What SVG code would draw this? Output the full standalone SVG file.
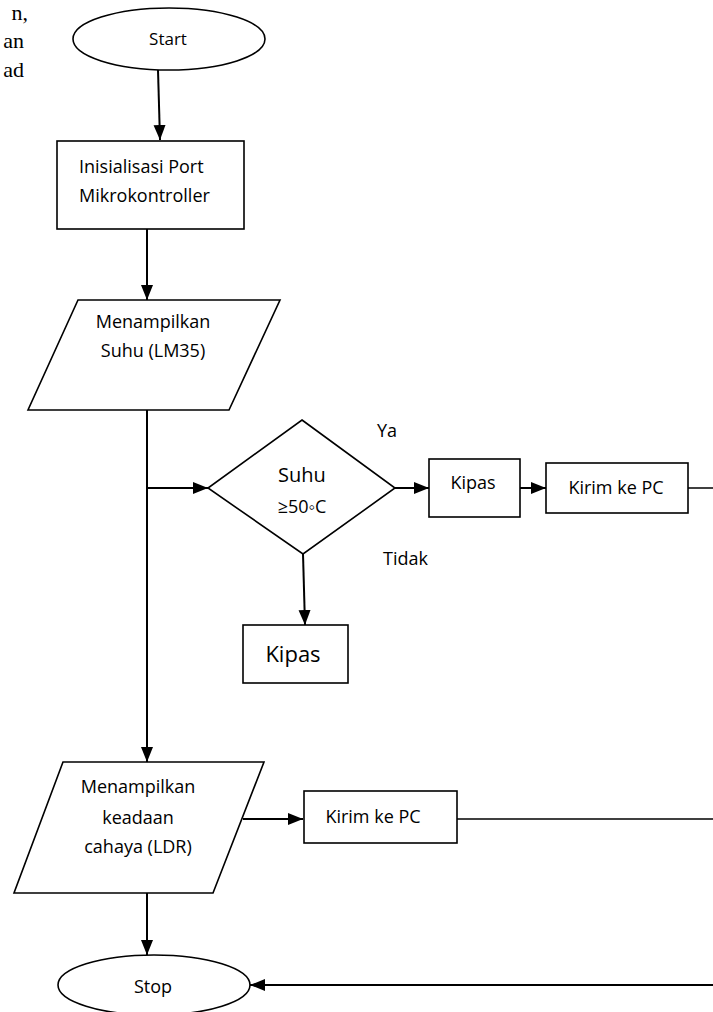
<svg xmlns="http://www.w3.org/2000/svg" width="713" height="1012" viewBox="0 0 713 1012">
<style>
.shape{fill:#fff;stroke:#000;stroke-width:1.6}
.t{font-family:"Open Sans","Liberation Sans",sans-serif;font-size:18px;fill:#000}
.c{stroke:#000;stroke-width:2;fill:none}
.thin{stroke:#000;stroke-width:1.5;fill:none}
.serif{font-family:"Liberation Serif",serif;font-size:22px;fill:#000}
</style>
<defs>
<marker id="ah" markerUnits="userSpaceOnUse" markerWidth="16" markerHeight="14" refX="15" refY="6" orient="auto">
<path d="M0,0 L15,6 L0,12 Z" fill="#000"/>
</marker>
</defs>
<g id="bgtext">
<text class="serif" x="28" y="20" text-anchor="end">n,</text>
<text class="serif" x="24" y="48" text-anchor="end">an</text>
<text class="serif" x="24" y="77" text-anchor="end">ad</text>
</g>
<g id="connectors">
<line class="c" x1="158" y1="70" x2="160" y2="140" marker-end="url(#ah)"/>
<line class="c" x1="147" y1="229" x2="147" y2="300" marker-end="url(#ah)"/>
<line class="c" x1="147" y1="410" x2="147" y2="762" marker-end="url(#ah)"/>
<line class="c" x1="147" y1="488" x2="208" y2="488" marker-end="url(#ah)"/>
<line class="c" x1="395" y1="488" x2="429" y2="488" marker-end="url(#ah)"/>
<line class="c" x1="520" y1="488" x2="546" y2="488" marker-end="url(#ah)"/>
<line class="thin" x1="688" y1="488" x2="713" y2="488"/>
<line class="c" x1="303" y1="554" x2="305" y2="625" marker-end="url(#ah)"/>
<line class="c" x1="243" y1="819" x2="303" y2="819" marker-end="url(#ah)"/>
<line class="thin" x1="457" y1="819" x2="713" y2="819"/>
<line class="c" x1="147" y1="893" x2="147" y2="955" marker-end="url(#ah)"/>
<line class="c" x1="713" y1="985" x2="250" y2="985" marker-end="url(#ah)"/>
</g>
<g id="start">
<ellipse class="shape" cx="169" cy="39" rx="96" ry="31"/>
<text class="t" x="168" y="45" text-anchor="middle" style="font-size:17px">Start</text>
</g>
<g id="init">
<rect class="shape" x="57" y="141" width="187" height="88"/>
<text class="t" x="79" y="173">Inisialisasi Port</text>
<text class="t" x="79" y="202">Mikrokontroller</text>
</g>
<g id="suhu">
<polygon class="shape" points="78,300 280,300 229,410 28,410"/>
<text class="t" x="153" y="328" text-anchor="middle">Menampilkan</text>
<text class="t" x="153" y="357" text-anchor="middle">Suhu (LM35)</text>
</g>
<g id="decision">
<polygon class="shape" points="302,420 395,488 303,554 208,488"/>
<text class="t" x="302" y="482" text-anchor="middle" style="font-size:20px">Suhu</text>
<text class="t" x="302" y="513" text-anchor="middle">≥50◦C</text>
</g>
<g id="labels">
<text class="t" x="377" y="437">Ya</text>
<text class="t" x="383" y="565">Tidak</text>
</g>
<g id="kipas1">
<rect class="shape" x="429" y="459" width="91" height="58"/>
<text class="t" x="473" y="489" text-anchor="middle">Kipas</text>
</g>
<g id="kirim1">
<rect class="shape" x="546" y="463" width="142" height="50"/>
<text class="t" x="616" y="494" text-anchor="middle">Kirim ke PC</text>
</g>
<g id="kipas2">
<rect class="shape" x="243" y="625" width="105" height="58"/>
<text class="t" x="293" y="662" text-anchor="middle" style="font-size:22px">Kipas</text>
</g>
<g id="ldr">
<polygon class="shape" points="63,762 264,762 213,893 14,893"/>
<text class="t" x="138" y="793" text-anchor="middle">Menampilkan</text>
<text class="t" x="138" y="824" text-anchor="middle">keadaan</text>
<text class="t" x="138" y="853" text-anchor="middle">cahaya (LDR)</text>
</g>
<g id="kirim2">
<rect class="shape" x="304" y="791" width="153" height="52"/>
<text class="t" x="373" y="823" text-anchor="middle">Kirim ke PC</text>
</g>
<g id="stop">
<ellipse class="shape" cx="154" cy="985" rx="96" ry="30"/>
<text class="t" x="153" y="993" text-anchor="middle">Stop</text>
</g>
</svg>
